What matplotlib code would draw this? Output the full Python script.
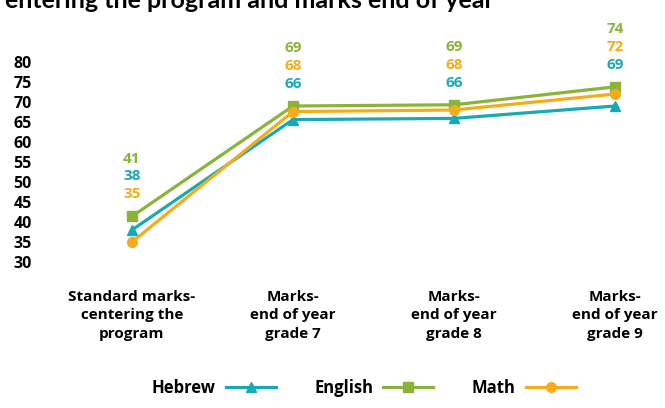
import matplotlib
matplotlib.use("Agg")
import matplotlib.pyplot as plt

plt.rcParams["font.family"] = ["Open Sans", "DejaVu Sans"]

# data
categories = [
    "Standard marks-\ncentering the\nprogram",
    "Marks-\nend of year\ngrade 7",
    "Marks-\nend of year\ngrade 8",
    "Marks-\nend of year\ngrade 9",
]
hebrew = [38, 65.6, 65.9, 69]
english = [41.4, 69, 69.3, 73.8]
math_marks = [35, 67.6, 68, 72]
y_ticks = [30, 35, 40, 45, 50, 55, 60, 65, 70, 75, 80]

series = [
    ("Hebrew", hebrew, "#17aab4", "^"),
    ("English", english, "#8ab33a", "s"),
    ("Math", math_marks, "#f5ac1b", "o"),
]

fig = plt.figure(figsize=(6.65, 4.08), dpi=100)
ax = fig.add_axes([40 / 665, 146 / 408, 625 / 665, 200 / 408])

x = list(range(len(categories)))
for name, values, color, marker in series:
    ax.plot(x, values, color=color, lw=2.3, marker=marker, ms=7,
            label=name, clip_on=False)

# value labels stacked above each category, highest value on top
for i in x:
    stacked = sorted(series, key=lambda s: s[1][i])
    top = max(s[1][i] for s in series)
    for k, (name, values, color, marker) in enumerate(stacked):
        ax.annotate(f"{round(values[i])}", (i, top), xytext=(0, 16 + k * 12.8),
                    textcoords="offset points", ha="center", va="center",
                    color=color, fontsize=11, fontweight="bold",
                    annotation_clip=False)

ax.set_xlim(-0.571, 3.31)
ax.set_ylim(30, 80)
ax.set_yticks(y_ticks)
ax.set_xticks(x)
ax.set_xticklabels(categories, fontsize=11, fontweight="bold", linespacing=1.4)
ax.tick_params(axis="y", length=0, labelsize=11.5, pad=6)
ax.tick_params(axis="x", length=0, pad=20)
for label in ax.get_yticklabels():
    label.set_fontweight("bold")
for spine in ax.spines.values():
    spine.set_visible(False)

fig.text(0.008, 1 - 8 / 408, "entering the program and marks end of year",
         fontsize=18, fontweight="bold", va="baseline", ha="left",
         family=["Lato", "DejaVu Sans"])

leg = fig.legend(loc="center", bbox_to_anchor=(0.547, 0.049), ncol=3,
                 frameon=False, markerfirst=False, handlelength=3.0,
                 columnspacing=2.3, handletextpad=0.6,
                 prop={"weight": "bold", "size": 12})

fig.savefig("out.png", dpi=100)
